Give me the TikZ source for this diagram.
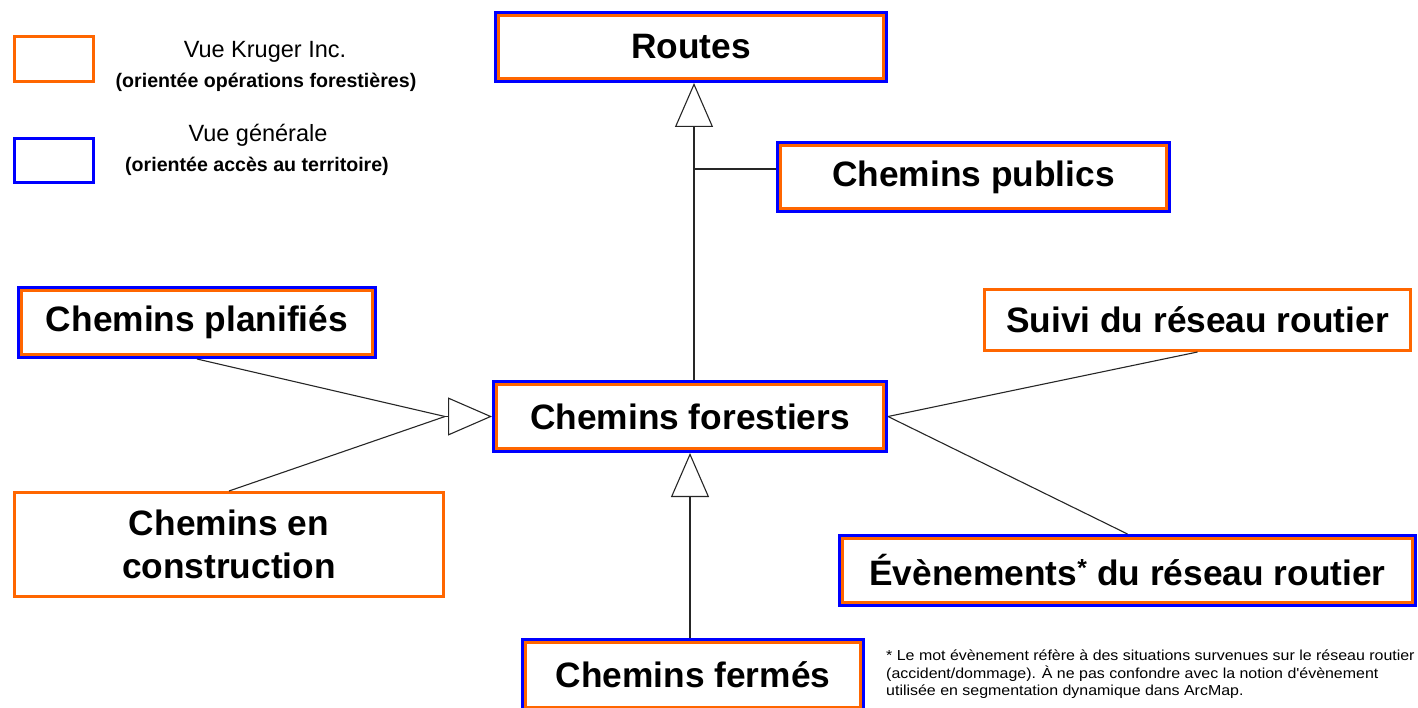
\documentclass[tikz,border=0pt]{standalone}
\usepackage{fontspec}
\setmainfont{Liberation Sans}
\newfontfamily\notefont[FakeStretch=1.1]{Liberation Sans}
\usetikzlibrary{arrows.meta}
\definecolor{orgC}{RGB}{255,102,0}
\definecolor{bluC}{RGB}{0,0,255}
\tikzset{
  obox/.style={draw=orgC, line width=3pt, fill=white, inner sep=0pt, outer sep=1.5pt,
    font=\fontsize{35.3}{43}\selectfont\bfseries, align=center},
  bbox/.style={obox, preaction={draw=bluC, line width=9pt}, outer sep=4.5pt},
  conn/.style={draw=black!85, line width=1.1pt},
  gen/.style={conn, -{Triangle[open, length=44pt, width=38pt, line width=1.1pt, fill=white]}},
  legtitle/.style={font=\fontsize{23.5}{26}\selectfont},
  legsub/.style={font=\fontsize{19.6}{22}\selectfont\bfseries},
}
\begin{document}
\begin{tikzpicture}[x=1pt, y=-1pt]
\useasboundingbox (0,0) rectangle (1418,708);
% legend
\node[draw=orgC, line width=3pt, minimum width=79pt, minimum height=45pt, inner sep=0pt] (lego) at (54,59) {};
\node[draw=bluC, line width=3pt, minimum width=79pt, minimum height=44pt, inner sep=0pt] (legb) at (54,160.5) {};
\node[legtitle] (lt1) at (265,52) {Vue Kruger Inc.};
\node[legsub] (ls1) at (266,82) {(orientée opérations forestières)};
\node[legtitle] (lt2) at (258,135) {Vue générale};
\node[legsub] (ls2) at (257,166) {(orientée accès au territoire)};
% boxes
\node[bbox, minimum width=385pt, minimum height=63pt] (routes) at (691,47) {Routes};
\node[bbox, minimum width=386pt, minimum height=63pt] (publics) at (973.5,177) {Chemins publics};
\node[bbox, minimum width=351pt, minimum height=64pt] (plan) at (197,322.5) {Chemins planifiés};
\node[obox, minimum width=429pt, minimum height=104pt] (cons) at (229,544.5) {Chemins en\\construction};
\node[bbox, minimum width=387pt, minimum height=64pt] (forest) at (690,416.5) {Chemins forestiers};
\node[obox, minimum width=426pt, minimum height=61pt] (suivi) at (1197.5,320) {Suivi du réseau routier};
\node[bbox, minimum width=570pt, minimum height=64pt] (evn) at (1127.5,570.5) {Évènements\textsuperscript{*} du réseau routier};
\node[bbox, minimum width=335pt, minimum height=65pt] (ferm) at (693,675) {Chemins fermés};
% footnote
\node[anchor=north west, align=left, inner sep=0pt, font=\notefont\fontsize{14.5}{17.5}\selectfont] (note) at (886,650)
  {* Le mot évènement réfère à des situations survenues sur le réseau routier\\
   (accident/dommage). À ne pas confondre avec la notion d'évènement\\
   utilisée en segmentation dynamique dans ArcMap.};
% connectors
\coordinate (j) at (694,169);
\draw[gen] (forest.north -| j) -- (routes.south -| j);
\draw[conn] (j) -- (j -| publics.west);
\coordinate (lb) at (445,416.5);
\draw[conn] (plan.south) -- (lb);
\draw[conn] (cons.north) -- (lb);
\draw[gen] (lb) -- (forest.west);
\draw[gen] (ferm.north -| forest.south) -- (forest.south);
\draw[conn] (forest.east) -- (suivi.south);
\draw[conn] (forest.east) -- (evn.north);
\end{tikzpicture}
\end{document}
